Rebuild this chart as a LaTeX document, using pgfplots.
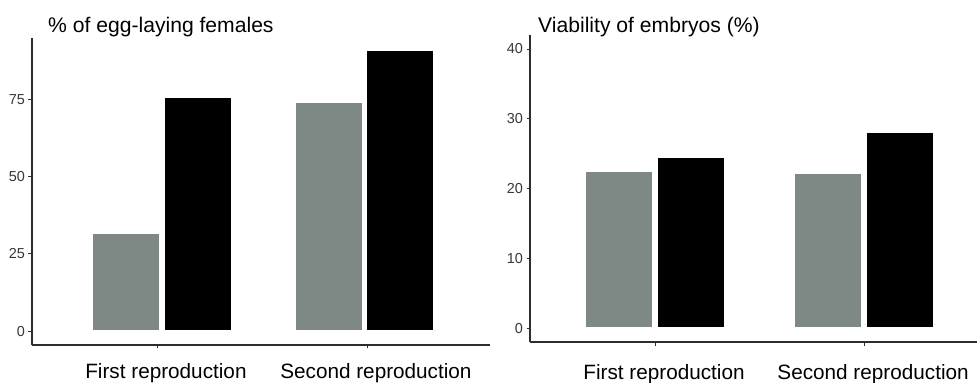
\documentclass[border=0pt]{standalone}
\usepackage{pgfplots}
\pgfplotsset{compat=1.18}
\usepackage{fontspec}
\setmainfont{Liberation Sans}
\definecolor{bargrey}{RGB}{126,137,133}
\definecolor{axgrey}{RGB}{45,45,45}
\definecolor{tickgrey}{RGB}{55,55,55}
\pgfplotsset{
  mystyle/.style={
    scale only axis,
    anchor=south west,
    axis lines*=left,
    axis line style={axgrey, line width=1.1bp},
    tick align=outside,
    major tick length=3.5bp,
    every tick/.style={axgrey, line width=0.8bp},
    xtick={1,2},
    xticklabels={First reproduction, Second reproduction},
    xticklabel style={font=\fontsize{20.8}{24}\selectfont, text=black, anchor=base, xshift=9bp},
    yticklabel style={font=\fontsize{14.5}{16}\selectfont, text=tickgrey},
    /pgf/number format/assume math mode=true,
    ybar, bar shift=0pt,
    height=307bp,
  },
}
\begin{document}
\begin{tikzpicture}
\path[use as bounding box] (0,0) rectangle (977bp,383bp);
% Left panel
\begin{axis}[mystyle,
  at={(32bp,38bp)}, width=458bp,
  xmin=0.405, xmax=2.586,
  ymin=-4.5, ymax=94.8,
  ytick={0,25,50,75},
  bar width=0.32,
  xticklabel style={yshift=-30bp},
]
\addplot[fill=bargrey, draw=white, line width=1.2bp] coordinates {(0.852,31.7) (1.819,74.1)};
\addplot[fill=black, draw=white, line width=1.2bp] coordinates {(1.195,75.7) (2.157,90.9)};
\end{axis}
% Right panel
\begin{axis}[mystyle,
  at={(530bp,41bp)}, width=447bp,
  xmin=0.402, xmax=2.54,
  ymin=-2, ymax=42,
  ytick={0,10,20,30,40},
  bar width=0.322,
  xticklabel style={yshift=-34bp},
]
\addplot[fill=bargrey, draw=white, line width=1.2bp] coordinates {(0.828,22.5) (1.828,22.2)};
\addplot[fill=black, draw=white, line width=1.2bp] coordinates {(1.172,24.5) (2.172,28.0)};
\end{axis}
\node[anchor=base west, font=\fontsize{21.2}{24}\selectfont, inner sep=0pt] at (48bp,350bp) {\% of egg-laying females};
\node[anchor=base west, font=\fontsize{21.2}{24}\selectfont, inner sep=0pt] at (538bp,350bp) {Viability of embryos (\%)};
\end{tikzpicture}
\end{document}
